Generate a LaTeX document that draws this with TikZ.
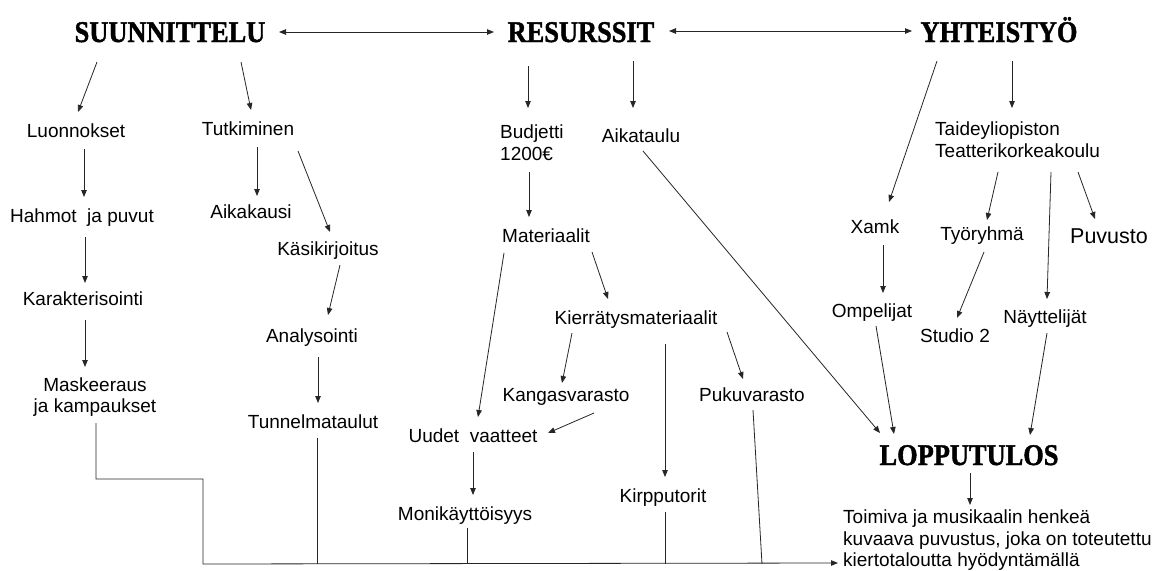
\documentclass[tikz,border=0pt]{standalone}
\usepackage{graphicx}
\usepackage{fontspec}
\setmainfont{Liberation Sans}
\newfontfamily\headfont{Liberation Serif Bold}[FakeBold=1.5]
\usetikzlibrary{arrows.meta}
\newcommand\hdtxt[1]{\scalebox{0.88}[1]{#1}}
\begin{document}
\begin{tikzpicture}[x=1pt,y=-1pt,
  txt/.style={inner sep=0pt, anchor=base, font=\fontsize{19}{22}\selectfont},
  mtxt/.style={inner sep=0pt, font=\fontsize{19}{22}\selectfont},
  head/.style={inner sep=0pt, anchor=base, font=\headfont\fontsize{30}{36}\selectfont},
  arr/.style={draw=black!85, line width=0.8pt, -{Triangle[length=7pt,width=5.5pt]}},
  darr/.style={draw=black!85, line width=0.8pt, {Triangle[length=7pt,width=5.5pt]}-{Triangle[length=7pt,width=5.5pt]}},
  ln/.style={draw=black!85, line width=0.8pt}]
\useasboundingbox[fill=white] (0,0) rectangle (1156,570);

% headings
\node[head] (suun) at (170,42) {\hdtxt{SUUNNITTELU}};
\node[head] (resu) at (581,42) {\hdtxt{RESURSSIT}};
\node[head] (yhte) at (999,42) {\hdtxt{YHTEISTYÖ}};
\node[head] (lopp) at (969,465) {\hdtxt{LOPPUTULOS}};

% left column
\node[txt] (luon) at (76,137) {Luonnokset};
\node[txt] (tutk) at (248,135) {Tutkiminen};
\node[txt] (hahm) at (82,222) {Hahmot\ \ ja puvut};
\node[txt] (aika) at (251,218) {Aikakausi};
\node[txt] (kasi) at (328,255) {Käsikirjoitus};
\node[txt] (kara) at (83,305) {Karakterisointi};
\node[txt] (anal) at (312,342) {Analysointi};
\node[mtxt, anchor=north, align=center, font=\fontsize{19}{21}\selectfont] (mask) at (95,378) {Maskeeraus\\ja kampaukset};
\node[txt] (tunn) at (313,428) {Tunnelmataulut};

% middle column
\node[mtxt, anchor=north west, align=left] (budj) at (500,125) {Budjetti\\1200€};
\node[txt] (aikt) at (641,142) {Aikataulu};
\node[txt] (mate) at (546,242) {Materiaalit};
\node[txt] (kier) at (636,324) {Kierrätysmateriaalit};
\node[txt] (kang) at (566,401) {Kangasvarasto};
\node[txt] (puku) at (752,401) {Pukuvarasto};
\node[txt] (uude) at (473,442) {Uudet\ \ vaatteet};
\node[txt] (moni) at (465,520) {Monikäyttöisyys};
\node[txt] (kirp) at (663,502) {Kirpputorit};

% right column
\node[mtxt, anchor=north west, align=left] (taid) at (935,122) {Taideyliopiston\\Teatterikorkeakoulu};
\node[txt] (xamk) at (875,233) {Xamk};
\node[txt] (tyor) at (982,240) {Työryhmä};
\node[txt, font=\fontsize{21.5}{26}\selectfont] (puvu) at (1109,243) {Puvusto};
\node[txt] (ompe) at (872,317) {Ompelijat};
\node[txt] (stud) at (955,342) {Studio 2};
\node[txt] (nayt) at (1045,323) {Näyttelijät};
\node[mtxt, anchor=north west, align=left, font=\fontsize{19}{21.3}\selectfont] (fina) at (843,510) {Toimiva ja musikaalin henkeä\\kuvaava puvustus, joka on toteutettu\\kiertotaloutta hyödyntämällä};

% heading links
\draw[darr] ([shift={(109,-10)}]suun.base) -- ([shift={(-87,-10)}]resu.base);
\draw[darr] ([shift={(88,-11)}]resu.base) -- ([shift={(-87,-11)}]yhte.base);

% left arrows
\draw[arr] ([shift={(-73,20)}]suun.base) -- ([shift={(2,-25)}]luon.base);
\draw[arr] ([shift={(71,20)}]suun.base) -- ([shift={(3,-25)}]tutk.base);
\draw[arr] ([shift={(8,12)}]luon.base) -- ([shift={(2,-25)}]hahm.base);
\draw[arr] ([shift={(9,12)}]tutk.base) -- ([shift={(6,-22)}]aika.base);
\draw[arr] ([shift={(50,16)}]tutk.base) -- ([shift={(2,-23)}]kasi.base);
\draw[arr] ([shift={(3,15)}]hahm.base) -- ([shift={(2,-22)}]kara.base);
\draw[arr] ([shift={(2,15)}]kara.base) -- ([shift={(-10,-11)}]mask.north);
\draw[arr] ([shift={(12,10)}]kasi.base) -- ([shift={(16,-27)}]anal.base);
\draw[arr] ([shift={(6,15)}]anal.base) -- ([shift={(5,-25)}]tunn.base);

% middle arrows
\draw[arr] ([shift={(-53,24)}]resu.base) -- ([shift={(28,-17)}]budj.north west);
\draw[arr] ([shift={(52,19)}]resu.base) -- ([shift={(-8,-34)}]aikt.base);
\draw[arr] ([shift={(29,47)}]budj.north west) -- ([shift={(-17,-25)}]mate.base);
\draw[arr] ([shift={(2,9)}]aikt.base) -- ([shift={(-89,-32)}]lopp.base);
\draw[arr] ([shift={(46,10)}]mate.base) -- ([shift={(-28,-25)}]kier.base);
\draw[arr] ([shift={(-42,11)}]mate.base) -- ([shift={(5,-25)}]uude.base);
\draw[arr] ([shift={(-64,9)}]kier.base) -- ([shift={(-4,-18)}]kang.base);
\draw[arr] ([shift={(29,20)}]kier.base) -- ([shift={(2,-25)}]kirp.base);
\draw[arr] ([shift={(91,8)}]kier.base) -- ([shift={(-9,-22)}]puku.base);
\draw[arr] ([shift={(28,12)}]kang.base) -- ([shift={(75,-9)}]uude.base);
\draw[arr] ([shift={(0,10)}]uude.base) -- ([shift={(8,-25)}]moni.base);

% right arrows
\draw[arr] ([shift={(-62,19)}]yhte.base) -- ([shift={(14,-31)}]xamk.base);
\draw[arr] ([shift={(13,19)}]yhte.base) -- ([shift={(77,-14)}]taid.north west);
\draw[arr] ([shift={(63,50)}]taid.north west) -- ([shift={(5,-20)}]tyor.base);
\draw[arr] ([shift={(116,50)}]taid.north west) -- ([shift={(2,-24)}]nayt.base);
\draw[arr] ([shift={(143,50)}]taid.north west) -- ([shift={(-14,-24)}]puvu.base);
\draw[arr] ([shift={(8,12)}]xamk.base) -- ([shift={(11,-24)}]ompe.base);
\draw[arr] ([shift={(2,12)}]tyor.base) -- ([shift={(2,-24)}]stud.base);
\draw[arr] ([shift={(4,9)}]ompe.base) -- ([shift={(-75,-31)}]lopp.base);
\draw[arr] ([shift={(2,10)}]nayt.base) -- ([shift={(61,-30)}]lopp.base);
\draw[arr] ([shift={(1,8)}]lopp.base) -- ([shift={(127,-5)}]fina.north west);

% bottom bus
\draw[arr] ([shift={(1,45)}]mask.north) -- ++(0,56) -- ++(107,0) -- ++(0,85) -- ([shift={(-5,53)}]fina.north west);
\draw[ln] ([shift={(4,10)}]tunn.base) -- ++(0,126);
\draw[ln] ([shift={(2,8)}]moni.base) -- ++(0,36);
\draw[ln] ([shift={(2,10)}]kirp.base) -- ++(0,52);
\draw[ln] ([shift={(1,9)}]puku.base) -- ++(9,154);
\end{tikzpicture}
\end{document}
